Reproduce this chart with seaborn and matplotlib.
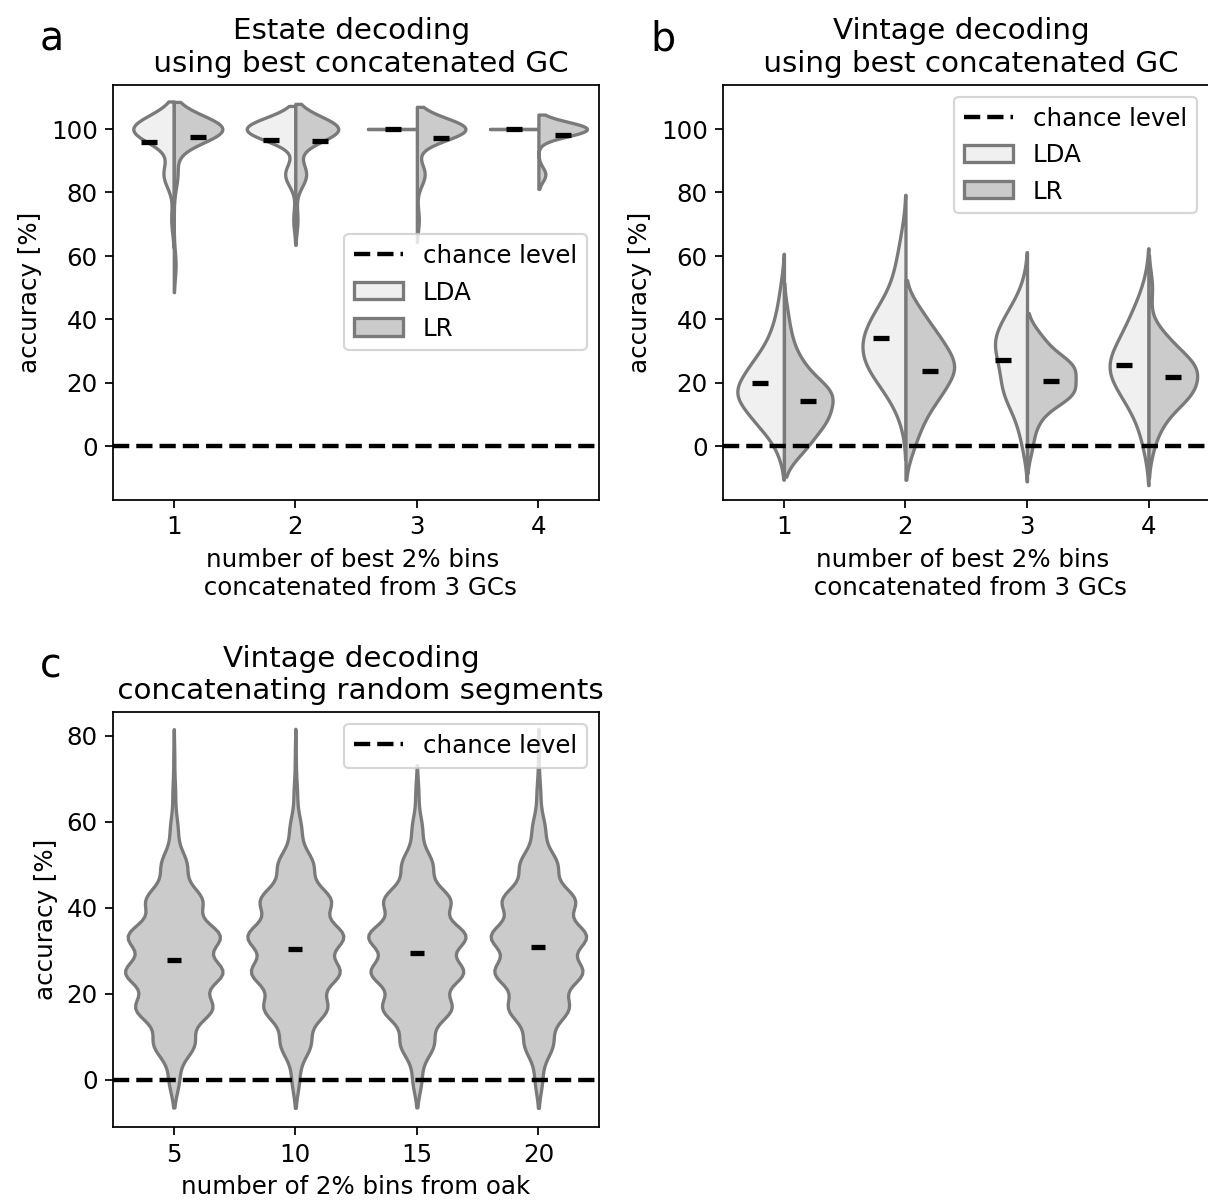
import numpy as np
import pandas as pd
import matplotlib
matplotlib.use("Agg")
import matplotlib.pyplot as plt
from matplotlib.lines import Line2D
from matplotlib.patches import Patch
import seaborn as sns

# ---------------- data (accuracy levels in %, number of runs at each level) ----
# panel a: estate decoding, best concatenated GC
a_categories = [1, 2, 3, 4]
a_levels = [100.0, 85.7, 71.4, 57.1]
a_lda_counts = [[16, 4, 1, 0], [24, 5, 1, 0], [20, 0, 0, 0], [20, 0, 0, 0]]
a_lr_counts = [[27, 2, 0, 1], [20, 5, 1, 0], [25, 4, 1, 0], [35, 5, 0, 0]]

# panel b: vintage decoding, best concatenated GC
b_categories = [1, 2, 3, 4]
b_levels = [0.0, 8.33, 16.67, 25.0, 33.33, 41.67, 50.0, 58.33, 66.67]
b_lda_counts = [[2, 8, 14, 9, 4, 2, 1, 0, 0],
                [0, 1, 4, 9, 10, 7, 3, 2, 1],
                [2, 4, 10, 10, 14, 8, 2, 0, 0],
                [1, 2, 5, 8, 5, 3, 1, 0, 0]]
b_lr_counts = [[6, 11, 13, 5, 2, 1, 0, 0, 0],
               [2, 4, 8, 12, 8, 4, 0, 0, 0],
               [1, 2, 9, 9, 3, 0, 0, 0, 0],
               [1, 3, 9, 10, 4, 0, 1, 0, 0]]

# panel c: vintage decoding, random oak segments
c_categories = [5, 10, 15, 20]
c_levels = [0.0, 8.33, 16.67, 25.0, 33.33, 41.67, 50.0, 58.33, 66.67, 75.0]
c_counts_5 = [30, 120, 225, 285, 270, 165, 75, 22, 8, 3]
c_counts_10 = [22, 90, 188, 262, 285, 210, 105, 34, 10, 3]
c_counts_15 = [26, 98, 202, 270, 285, 195, 90, 30, 9, 0]
c_counts_20 = [22, 86, 180, 262, 285, 218, 112, 38, 11, 2]

classifiers = ["LDA", "LR"]
# -----------------------------------------------------------------------------

pal = {"LDA": "#f0f0f0", "LR": "#cbcbcb"}
edge = "#7a7a7a"
FS = 11.2
FS_TITLE = 13.4


def build_split(categories, levels, lda_counts, lr_counts):
    parts = []
    for cat, cl, cr in zip(categories, lda_counts, lr_counts):
        for clf, counts in zip(classifiers, (cl, cr)):
            vals = np.repeat(np.asarray(levels, float), counts)
            parts.append(pd.DataFrame({"n": cat, "clf": clf, "acc": vals}))
    return pd.concat(parts, ignore_index=True)


df_a = build_split(a_categories, a_levels, a_lda_counts, a_lr_counts)
df_b = build_split(b_categories, b_levels, b_lda_counts, b_lr_counts)
df_c = pd.concat(
    [pd.DataFrame({"n": cat, "acc": np.repeat(np.asarray(c_levels, float), cnt)})
     for cat, cnt in zip(c_categories, [c_counts_5, c_counts_10, c_counts_15, c_counts_20])],
    ignore_index=True)

DPI = 158
W, H = 1208, 1203
fig = plt.figure(figsize=(W / DPI + 0.002, H / DPI + 0.002), dpi=DPI)


def axpos(x0, y0, w=486, h=415):
    return [x0 / W, 1 - (y0 + h) / H, w / W, h / H]


ax_a = fig.add_axes(axpos(113, 85))
ax_b = fig.add_axes(axpos(723, 85))
ax_c = fig.add_axes(axpos(113, 712))


def split_panel(ax, df, categories):
    sns.pointplot(data=df, x="n", y="acc", hue="clf", order=categories,
                  hue_order=classifiers, dodge=0.4, errorbar=None,
                  markers="_", linestyles="none",
                  palette={"LDA": "black", "LR": "black"},
                  markersize=7.7, markeredgewidth=2.4, legend=False, ax=ax)
    for cat in categories:
        sub = df[df["n"] == cat]
        # halves of one violin share a scale unless one half has no spread
        common = bool(sub.groupby("clf")["acc"].nunique().min() > 1)
        sns.violinplot(data=sub, x="n", y="acc", hue="clf",
                       order=categories, hue_order=classifiers, split=True,
                       inner=None, density_norm="area", common_norm=common,
                       palette=pal, linecolor=edge, linewidth=1.5,
                       legend=False, ax=ax)
    # single-valued halves are drawn as lines; keep them above the mean marks
    for ln in ax.lines:
        if matplotlib.colors.to_hex(ln.get_color()) == edge:
            ln.set_zorder(3)
    ax.axhline(0, color="black", linestyle="--", linewidth=2, zorder=4)
    ax.set_ylim(-17, 114)
    ax.set_xlabel("number of best 2% bins \n concatenated from 3 GCs", fontsize=FS)
    ax.set_ylabel("accuracy [%]", fontsize=FS)


split_panel(ax_a, df_a, a_categories)
split_panel(ax_b, df_b, b_categories)

sns.pointplot(data=df_c, x="n", y="acc", order=c_categories, errorbar=None,
              markers="_", linestyles="none", color="black",
              markersize=6.8, markeredgewidth=2.4, ax=ax_c)
sns.violinplot(data=df_c, x="n", y="acc", order=c_categories, inner=None,
               color="#cbcbcb", linecolor=edge, linewidth=1.5,
               density_norm="area", ax=ax_c)
ax_c.axhline(0, color="black", linestyle="--", linewidth=2)
ax_c.set_ylim(-11, 85.5)
ax_c.set_xlabel("number of 2% bins from oak", fontsize=FS)
ax_c.set_ylabel("accuracy [%]", fontsize=FS)

ax_a.set_title("Estate decoding \n using best concatenated GC", fontsize=FS_TITLE)
ax_b.set_title("Vintage decoding \n using best concatenated GC", fontsize=FS_TITLE)
ax_c.set_title("Vintage decoding \n concatenating random segments", fontsize=FS_TITLE)

h_line = Line2D([], [], color="black", linestyle="--", linewidth=2)
h_lda = Patch(facecolor=pal["LDA"], edgecolor=edge, linewidth=1.5)
h_lr = Patch(facecolor=pal["LR"], edgecolor=edge, linewidth=1.5)
ax_a.legend([h_line, h_lda, h_lr], ["chance level", "LDA", "LR"], loc="center right", fontsize=FS)
ax_b.legend([h_line, h_lda, h_lr], ["chance level", "LDA", "LR"], loc="upper right", fontsize=FS)
ax_c.legend([h_line], ["chance level"], loc="upper right", fontsize=FS)

for ax, letter in zip([ax_a, ax_b, ax_c], "abc"):
    ax.tick_params(labelsize=FS)
    ax.text(-0.15, 1.083, letter, transform=ax.transAxes, fontsize=18,
            va="baseline", ha="left")

fig.savefig("out.png", dpi=DPI)
